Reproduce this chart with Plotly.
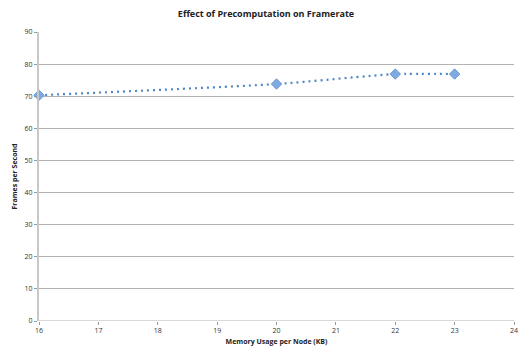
import plotly.graph_objects as go

memory_kb = [16, 20, 22, 23]
fps = [70.3, 73.8, 76.9, 76.9]
x_ticks = [16, 17, 18, 19, 20, 21, 22, 23, 24]
y_ticks = [0, 10, 20, 30, 40, 50, 60, 70, 80, 90]

fig = go.Figure()
fig.add_trace(go.Scatter(
    x=memory_kb, y=fps, mode="lines+markers", cliponaxis=False,
    line=dict(color="#4f86c6", width=2.2, dash="2px,4px", shape="spline", smoothing=0.6),
    marker=dict(symbol="diamond", size=8, color="#7eaae0", line=dict(color="#6a9ad6", width=1)),
    showlegend=False,
))

font_family = "Open Sans, Liberation Sans, sans-serif"
fig.update_layout(
    width=532, height=356,
    margin=dict(l=39, r=18, t=32, b=31),
    paper_bgcolor="white", plot_bgcolor="white",
    title=dict(text="<b>Effect of Precomputation on Framerate</b>", x=0.5, xanchor="center",
               y=1 - 14/356, yanchor="middle", font=dict(family=font_family, size=9, color="#222")),
    xaxis=dict(range=[16, 24], tickvals=x_ticks, showgrid=False, zeroline=False,
               showline=False, ticks="outside", ticklen=3, tickcolor="#999",
               tickfont=dict(family=font_family, size=7, color="#333"),
               title=dict(text="<b>Memory Usage per Node (KB)</b>", standoff=4,
                          font=dict(family=font_family, size=7, color="#222"))),
    yaxis=dict(range=[0, 90], tickvals=y_ticks, showgrid=True, gridcolor="#b3b3b3", gridwidth=1,
               zeroline=False, showline=True, linecolor="#c8c8c8", linewidth=2,
               ticks="outside", ticklen=3, tickcolor="#999",
               tickfont=dict(family=font_family, size=7, color="#333"),
               title=dict(text="<b>Frames per Second</b>", standoff=6,
                          font=dict(family=font_family, size=7, color="#222"))),
)
fig.add_shape(type="line", xref="paper", yref="y", x0=0, x1=1, y0=0, y1=0,
              line=dict(color="#b3b3b3", width=1))
fig.write_html("out.html")
